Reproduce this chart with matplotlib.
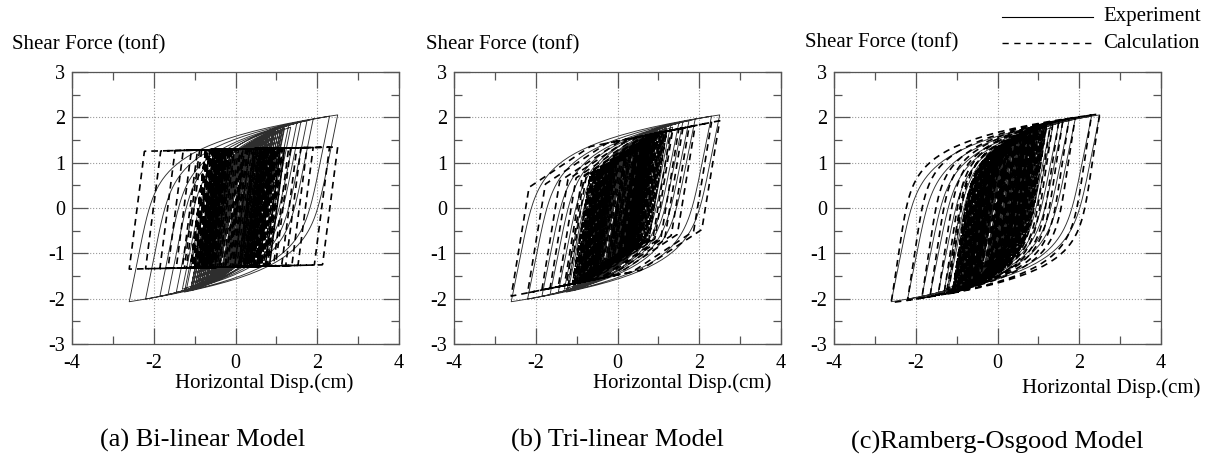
import numpy as np
import matplotlib
matplotlib.use("Agg")
import matplotlib.pyplot as plt
from matplotlib.lines import Line2D
from matplotlib.ticker import MultipleLocator

plt.rcParams["font.family"] = ["Liberation Serif", "DejaVu Serif"]
plt.rcParams["axes.unicode_minus"] = False

# Reversal points of the measured horizontal displacement history (cm)
disp_reversals = [
    0.0, 0.15, -0.12, 0.3, -0.25, 0.45, -0.4, 0.6, -0.55, 0.8, -0.7, 0.95,
    -0.9, 1.15, -1.05, 1.3, -1.2, 1.6, -1.45, 1.9, -1.65, 1.5, -1.85, 1.75,
    -2.2, 1.2, -1.3, 2.3, -2.6, 2.5, -1.1, 1.35, -1.0, 1.1, -1.25, 0.9,
    -0.95, 1.2, -0.85, 1.05, -1.1, 0.85, -0.75, 1.0, -0.9, 0.7, -0.8, 0.95,
    -1.05, 1.15, -0.7, 0.8, -1.0, 1.0, -0.8, 0.9, -0.95, 0.75, -0.85, 1.1,
    -0.75, 0.95, -1.1, 0.85, -0.9, 1.05, -0.65, 0.9, -1.0, 0.7, -0.8, 1.0,
    -0.95, 0.8, -0.7, 1.1, -0.9, 0.65, -1.05, 0.9, -0.75, 0.95, -0.85, 0.75,
    -0.6, 0.8, -0.85, 0.6, -0.55, 0.9, -0.7, 0.75, -0.65, 0.55, -0.75, 0.7,
    -0.9, 0.85, -0.6, 0.65, -0.8, 0.95, -0.5, 0.7, -0.7, 0.6, -0.65, 0.8,
    -0.55, 0.75, -0.8, 0.5, -0.6, 0.7, -0.7, 0.55, -0.5, 0.65, -0.6, 0.5,
    -0.45, 0.6, -0.6, 0.45, -0.5, 0.65, -0.35, 0.5, -0.45, 0.4, -0.55, 0.45,
    -0.3, 0.35, -0.4, 0.3, -0.25, 0.35, -0.2, 0.25, -0.15, 0.2, -0.1, 0.1, 0.0,
]

# Skeleton parameters (force in tonf, stiffness in tonf/cm)
bilinear_k0, bilinear_fy, bilinear_k2 = 7.0, 1.3, 0.02
trilinear_k1, trilinear_f1, trilinear_k2, trilinear_f2, trilinear_k3 = 5.5, 1.2, 0.6, 1.65, 0.18
ro_k0, ro_fy, ro_alpha, ro_r = 6.0, 1.2, 0.15, 7.8
exp_k0, exp_fy, exp_alpha, exp_r = 4.5, 1.2, 0.178, 7.0

panel_titles = ["(a) Bi-linear Model", "(b) Tri-linear Model", "(c)Ramberg-Osgood Model"]
ylabel_text = "Shear Force (tonf)"
xlabel_text = "Horizontal Disp.(cm)"


def disp_path(reversals, step=0.01):
    pts = [reversals[0]]
    for a, b in zip(reversals[:-1], reversals[1:]):
        n = max(int(abs(b - a) / step), 2)
        pts.extend(np.linspace(a, b, n + 1)[1:])
    return np.array(pts)


def iwan_response(x_path, xs, fs):
    """Masing-type hysteresis from a convex skeleton via parallel slip elements."""
    xs, fs = np.asarray(xs, float), np.asarray(fs, float)
    k = np.diff(fs) / np.diff(xs)
    c = k[:-1] - k[1:]
    d = xs[1:-1]
    c_inf = k[-1]
    slip = np.zeros_like(d)
    out = np.empty_like(x_path)
    for i, x in enumerate(x_path):
        slip = np.clip(slip, x - d, x + d)
        out[i] = np.sum(c * (x - slip)) + c_inf * x
    return out


def ro_skeleton(k0, fy, alpha, r, fmax=2.4, n=60):
    f = np.linspace(0, fmax, n)
    x = f / k0 * (1 + alpha * np.abs(f / fy) ** (r - 1))
    return x, f


x_hist = disp_path(disp_reversals)

d1 = bilinear_fy / bilinear_k0
bi_xs = [0, d1, 6.0]
bi_fs = [0, bilinear_fy, bilinear_fy + bilinear_k2 * (6.0 - d1)]

t1 = trilinear_f1 / trilinear_k1
t2 = t1 + (trilinear_f2 - trilinear_f1) / trilinear_k2
tri_xs = [0, t1, t2, 6.0]
tri_fs = [0, trilinear_f1, trilinear_f2, trilinear_f2 + trilinear_k3 * (6.0 - t2)]

f_exp = iwan_response(x_hist, *ro_skeleton(exp_k0, exp_fy, exp_alpha, exp_r))
f_calc = [
    iwan_response(x_hist, bi_xs, bi_fs),
    iwan_response(x_hist, tri_xs, tri_fs),
    iwan_response(x_hist, *ro_skeleton(ro_k0, ro_fy, ro_alpha, ro_r)),
]

W, H = 1216, 459
fig = plt.figure(figsize=(W / 100, H / 100), dpi=100)

ax_left = [72, 454, 834]
ylabel_pos = [(12, 45), (426, 45), (805, 43)]
xlabel_pos = [(264, 383, "center"), (682, 383, "center"), (1200, 388, "right")]
caption_pos = [(203, 440), (617, 440), (997, 442)]

for i in range(3):
    ax = fig.add_axes([ax_left[i] / W, (H - 344) / H, 327 / W, 272 / H])
    ax.plot(x_hist, f_exp, color="#2e2e2e", lw=0.65)
    ax.plot(x_hist, f_calc[i], color="black", lw=1.2, dashes=(4, 3))

    ax.set_xlim(-4, 4)
    ax.set_ylim(-3, 3)
    ax.xaxis.set_major_locator(MultipleLocator(2))
    ax.xaxis.set_minor_locator(MultipleLocator(1))
    ax.yaxis.set_major_locator(MultipleLocator(1))
    ax.yaxis.set_minor_locator(MultipleLocator(0.5))
    ax.tick_params(which="both", direction="in", top=True, right=True,
                   color="#555555", width=0.9, labelsize=14.5)
    ax.tick_params(which="major", length=11.5)
    ax.tick_params(which="minor", length=6)
    ax.tick_params(axis="x", pad=7)
    ax.tick_params(axis="y", pad=5)
    ax.grid(which="major", color="#9a9a9a", linestyle=":", lw=0.8)
    for s in ax.spines.values():
        s.set_color("#555555")
        s.set_linewidth(0.9)

    fig.text(ylabel_pos[i][0] / W, 1 - ylabel_pos[i][1] / H, ylabel_text,
             fontsize=15, va="center", ha="left")
    fig.text(xlabel_pos[i][0] / W, 1 - xlabel_pos[i][1] / H, xlabel_text,
             fontsize=15, va="center", ha=xlabel_pos[i][2])
    fig.text(caption_pos[i][0] / W, 1 - caption_pos[i][1] / H, panel_titles[i],
             fontsize=19, va="center", ha="center")

# legend in the upper right corner
fig.add_artist(Line2D([1002 / W, 1093 / W], [1 - 17 / H] * 2, color="black", lw=0.8))
fig.add_artist(Line2D([1002 / W, 1093 / W], [1 - 43 / H] * 2, color="black", lw=1.0,
                      dashes=(4.5, 4)))
fig.text(1103 / W, 1 - 17 / H, "Experiment", fontsize=15, va="center", ha="left")
fig.text(1103 / W, 1 - 43 / H, "Calculation", fontsize=15, va="center", ha="left")

fig.savefig("out.png", dpi=100)
